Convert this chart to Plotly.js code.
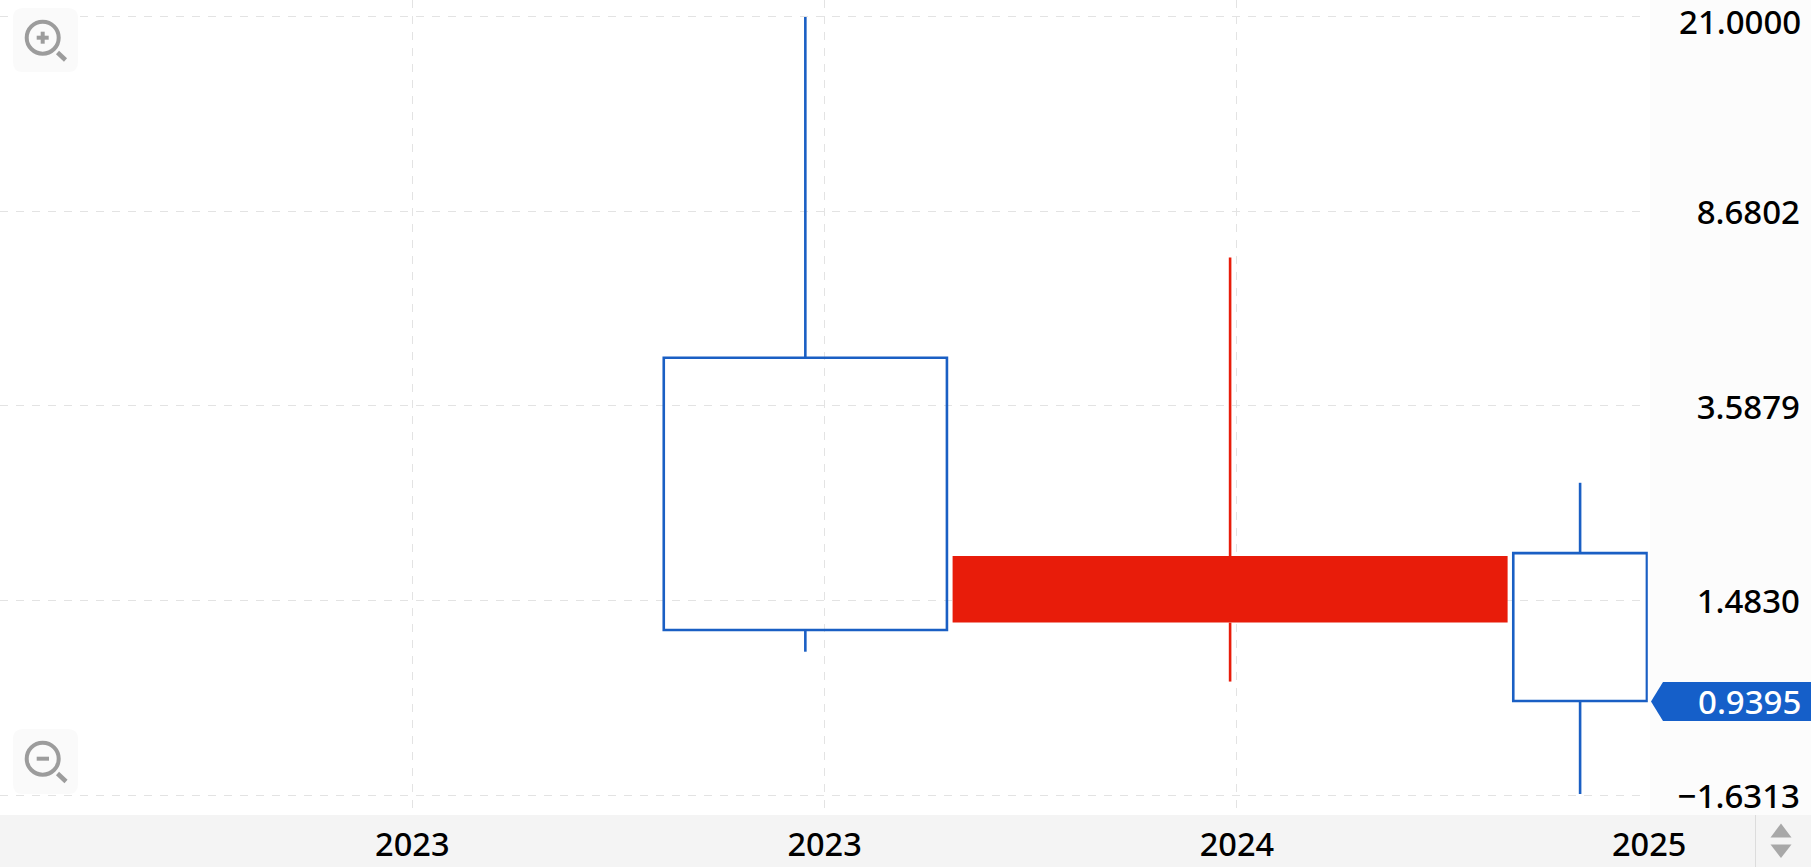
<!DOCTYPE html>
<html>
<head>
<meta charset="utf-8">
<script src="https://cdn.plot.ly/plotly-3.0.1.min.js"></script>
<style>html,body{margin:0;padding:0;background:#fff;overflow:hidden}#chart{width:1811px;height:867px}</style>
</head>
<body>
<div id="chart"></div>
<script>
// ---- data ----
const periodStart = ["2023-08-11", "2024-04-22", "2025-08-30"];
const periodEnd   = ["2024-04-17", "2025-08-25", "2025-12-26"];
const openValues  = [4.466, 1.341, 1.839];
const highValues  = [21.0, 7.04, 2.531];
const lowValues   = [1.175, 1.026, 0.6157];
const closeValues = [1.297, 1.815, 0.9395];
const xTickDates  = ["2023-01-01", "2023-12-31", "2024-12-29", "2025-12-28"];
const yTickValues = [21.0, 8.6802, 3.5879, 1.4830, 0.6127];
const yTickLabels = ["", "8.6802", "3.5879", "1.4830", "\u22121.6313"];
const topLabel = "21.0000";
const lastPriceLabel = "0.9395";

// ---- styling ----
const BLUE = "#1a5fc4", RED = "#e81c0a", TAG = "#155fc9";
const GRID = "#e3e3e3", ICON = "#9c9c9c";
const W = 1811, H = 867, PLOT_R = 1803, PLOT_B = 815, PANEL_X = 1650;
const FONT = {family: '"Noto Sans", sans-serif', size: 32.5, color: "#000", weight: 500};
const YFONT = {family: FONT.family, size: 33, color: "#000", weight: 500};

const px = x => x / PLOT_R;
const py = y => 1 - y / PLOT_B;

const t = s => new Date(s + "T00:00:00Z").getTime();
const mids = periodStart.map((s, i) => new Date((t(s) + t(periodEnd[i])) / 2).toISOString());
const widths = periodStart.map((s, i) => t(periodEnd[i]) - t(s));
const isUp = closeValues.map((c, i) => c > openValues[i]);
const colours = isUp.map(u => u ? RED : BLUE);

const bodyTop = openValues.map((o, i) => Math.max(o, closeValues[i]));
const bodyBot = openValues.map((o, i) => Math.min(o, closeValues[i]));

const wickTraces = mids.map((m, i) => ({
  type: "scatter", mode: "lines", hoverinfo: "skip", showlegend: false,
  x: [m, m, null, m, m],
  y: [highValues[i], bodyTop[i], null, bodyBot[i], lowValues[i]],
  line: {color: colours[i], width: 2.6}
}));

const bodyTrace = {
  type: "bar", showlegend: false, hoverinfo: "skip",
  x: mids, width: widths, base: bodyBot,
  y: bodyTop.map((v, i) => v - bodyBot[i]),
  marker: {
    color: isUp.map(u => u ? RED : "rgba(0,0,0,0)"),
    line: {color: isUp.map(u => u ? "rgba(0,0,0,0)" : BLUE), width: 2.6}
  }
};

// ---- chrome drawn as shapes ----
const rectShape = (x0, y0, x1, y1, fill, layer) => ({
  type: "rect", xref: "paper", yref: "paper", layer: layer,
  x0: px(x0), x1: px(x1), y0: py(y0), y1: py(y1),
  fillcolor: fill, line: {width: 0}
});
const polyShape = (pts, fill, line) => ({
  type: "path", xref: "paper", yref: "paper", layer: "above",
  path: "M" + pts.map(p => px(p[0]) + "," + py(p[1])).join("L") + "Z",
  fillcolor: fill, line: line || {width: 0}
});
const segShape = (x0, y0, x1, y1, w, c) => ({
  type: "line", xref: "paper", yref: "paper", layer: "above",
  x0: px(x0), x1: px(x1), y0: py(y0), y1: py(y1), line: {color: c, width: w}
});
const roundRect = (x0, y0, x1, y1, r, fill) => {
  const X = px, Y = py;
  return {
    type: "path", xref: "paper", yref: "paper", layer: "above",
    path: `M${X(x0 + r)},${Y(y0)}L${X(x1 - r)},${Y(y0)}Q${X(x1)},${Y(y0)} ${X(x1)},${Y(y0 + r)}` +
          `L${X(x1)},${Y(y1 - r)}Q${X(x1)},${Y(y1)} ${X(x1 - r)},${Y(y1)}` +
          `L${X(x0 + r)},${Y(y1)}Q${X(x0)},${Y(y1)} ${X(x0)},${Y(y1 - r)}` +
          `L${X(x0)},${Y(y0 + r)}Q${X(x0)},${Y(y0)} ${X(x0 + r)},${Y(y0)}Z`,
    fillcolor: fill, line: {width: 0}
  };
};
const ring = (cx, cy, r, w, c) => ({
  type: "circle", xref: "paper", yref: "paper", layer: "above",
  x0: px(cx - r), x1: px(cx + r), y0: py(cy + r), y1: py(cy - r),
  fillcolor: "rgba(0,0,0,0)", line: {color: c, width: w}
});

const shapes = [
  rectShape(0, PLOT_B, W, H, "#f4f4f4", "below"),
  rectShape(1647.8, 0, PANEL_X, PLOT_B, "#ffffff", "above"),
  segShape(1755.5, PLOT_B, 1755.5, H, 1, "#dcdcdc"),
  // zoom-in button
  roundRect(13, 8, 78, 72, 10, "#fafafa"),
  ring(42.7, 37.7, 16, 4, ICON),
  segShape(36.7, 37.7, 48.7, 37.7, 4, ICON),
  segShape(42.7, 31.7, 42.7, 43.7, 4, ICON),
  segShape(57.5, 52.5, 65.5, 60, 4.5, ICON),
  // zoom-out button
  roundRect(13, 729, 78, 794, 10, "#fafafa"),
  ring(42.7, 758.7, 16, 4, ICON),
  segShape(36.7, 758.7, 49, 758.7, 4, ICON),
  segShape(57.5, 773.5, 66, 781.5, 4.5, ICON),
  // scroll arrows
  polyShape([[1781, 823.5], [1791.5, 837.5], [1770.5, 837.5]], "#a8a8a8"),
  polyShape([[1770.5, 844.5], [1791.5, 844.5], [1781, 858]], "#a8a8a8"),
  // last price tag
  polyShape([[1651, 701.5], [1663, 682], [W + 1, 682], [W + 1, 721], [1663, 721]], TAG)
];

const layout = {
  width: W, height: H,
  margin: {l: 0, r: W - PLOT_R, t: 0, b: H - PLOT_B, pad: 0},
  paper_bgcolor: "#fcfcfc",
  plot_bgcolor: "#ffffff",
  showlegend: false,
  barmode: "overlay",
  font: FONT,
  hovermode: false,
  xaxis: {
    type: "date",
    domain: [0, PANEL_X / PLOT_R],
    range: ["2022-01-02", "2025-12-28 17:00"],
    tickmode: "array", tickvals: xTickDates, tickformat: "%Y",
    ticks: "outside", ticklen: 1, tickcolor: "rgba(0,0,0,0)",
    tickangle: 0,
    showgrid: true, gridcolor: GRID, griddash: "8px,8px", gridwidth: 1,
    zeroline: false, showline: false,
    tickfont: FONT, automargin: false, fixedrange: true
  },
  yaxis: {
    type: "log",
    range: [-0.2521, 1.3557],
    anchor: "free", position: 1, side: "right",
    ticklabelposition: "inside", ticklabeloverflow: "allow",
    ticklabelshift: 1,
    tickmode: "array", tickvals: yTickValues, ticktext: yTickLabels,
    ticks: "", showgrid: true, gridcolor: GRID, griddash: "8px,8px", gridwidth: 1,
    zeroline: false, showline: false,
    tickfont: YFONT, automargin: false, fixedrange: true
  },
  shapes: shapes,
  annotations: [{
    xref: "paper", yref: "y", x: 1, y: Math.log10(closeValues[closeValues.length - 1]),
    xanchor: "right", yanchor: "middle", showarrow: false,
    text: lastPriceLabel, yshift: -1,
    font: {family: FONT.family, size: 33, color: "#ffffff", weight: 500}
  }, {
    xref: "paper", yref: "y", x: 1, y: Math.log10(yTickValues[0]),
    xanchor: "right", yanchor: "middle", showarrow: false,
    text: topLabel, yshift: -5,
    font: YFONT
  }]
};

Plotly.newPlot("chart", [bodyTrace].concat(wickTraces), layout, {displayModeBar: false, staticPlot: true});
</script>
</body>
</html>
